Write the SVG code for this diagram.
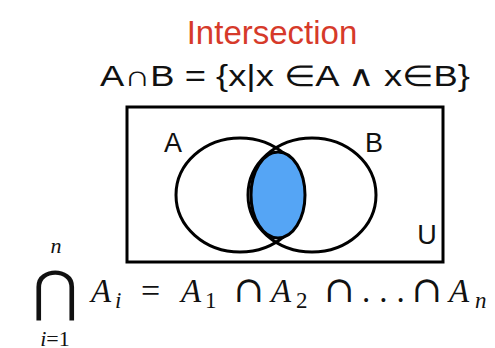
<svg xmlns="http://www.w3.org/2000/svg" width="495" height="348" viewBox="0 0 495 348">
<style>
.sans{font-family:"Liberation Sans","Helvetica",Arial,sans-serif;fill:#111}
.op{font-family:"DejaVu Serif","DejaVu Sans",serif;fill:#111}
.ln{fill:none;stroke:#000;stroke-width:3}
</style>
<rect width="495" height="348" fill="#fff"/>
<g id="title"><text x="272" y="44" text-anchor="middle" class="sans" style="fill:#d63a2a;font-size:33px">Intersection</text></g>
<g id="definition"><text x="100" y="86" class="sans" style="font-size:29px" textLength="370" lengthAdjust="spacingAndGlyphs">A∩B = {x|x ∈A ∧ x∈B}</text></g>
<g id="universe"><rect x="127" y="107" width="316" height="155" class="ln"/>
<text x="427" y="244" text-anchor="middle" class="sans" style="font-size:27px">U</text></g>
<g id="setA"><ellipse cx="240" cy="195" rx="64" ry="57" class="ln" stroke-width="2.5"/>
<text x="173" y="152" text-anchor="middle" class="sans" style="font-size:27px">A</text></g>
<g id="setB"><ellipse cx="312" cy="195" rx="64" ry="57" class="ln" stroke-width="2.5"/>
<text x="374" y="152" text-anchor="middle" class="sans" style="font-size:27px">B</text></g>
<g id="intersection"><ellipse cx="278" cy="195" rx="27" ry="43" fill="#55a5f5" stroke="#000" stroke-width="3"/></g>
<g id="formula">
<text x="55" y="310" text-anchor="middle" class="op" style="font-size:55px">⋂</text>
<text x="56" y="253" text-anchor="middle" font-family="Liberation Serif" font-style="italic" font-size="22" fill="#111">n</text>
<text x="55" y="346" text-anchor="middle" font-family="Liberation Serif" font-size="22" fill="#111"><tspan font-style="italic">i</tspan>=1</text>
<g font-family="Liberation Serif" font-size="33" fill="#111">
<text x="91" y="302" font-style="italic">A</text>
<text x="115" y="308" font-style="italic" font-size="23">i</text>
<text x="141" y="302" font-size="34">=</text>
<text x="181" y="302" font-style="italic">A</text>
<text x="205" y="308" font-size="23">1</text>
<text x="271" y="302" font-style="italic">A</text>
<text x="296" y="308" font-size="23">2</text>
<text x="362" y="302" font-size="33" letter-spacing="9">...</text>
<text x="449" y="302" font-style="italic">A</text>
<text x="475" y="308" font-style="italic" font-size="23">n</text>
</g>
<g class="op" font-size="36">
<text x="248.5" y="302" text-anchor="middle">∩</text>
<text x="339" y="302" text-anchor="middle">∩</text>
<text x="426.5" y="302" text-anchor="middle">∩</text>
</g>
</g>
</svg>
